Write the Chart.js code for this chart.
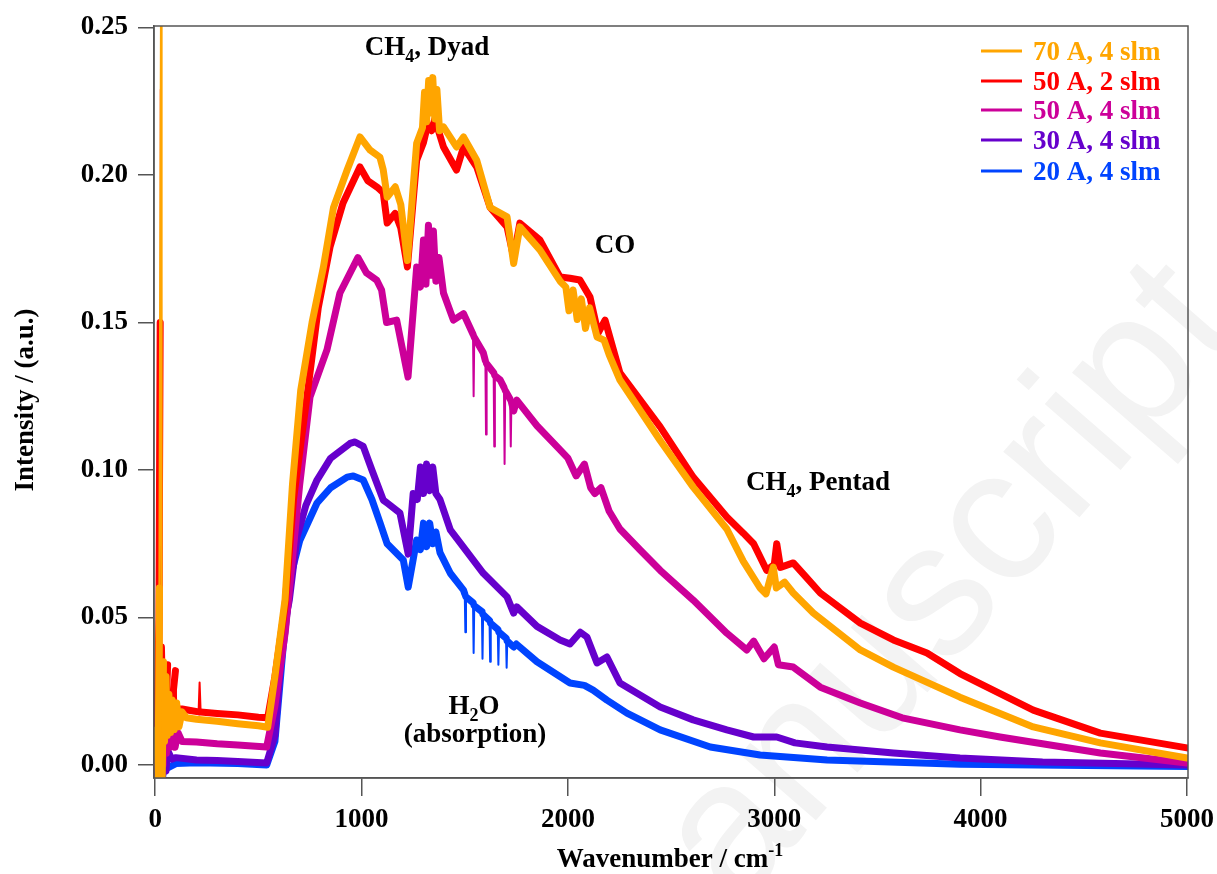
<!DOCTYPE html>
<html><head><meta charset="utf-8">
<script src="https://cdn.jsdelivr.net/npm/chart.js@4/dist/chart.umd.min.js"></script>
<style>html,body{margin:0;padding:0;background:#fff;}canvas{display:block;}</style>
</head><body>
<canvas id="c" width="1217" height="874" style="width:1217px;height:874px"></canvas>
<script>
// ---- data ----
const seriesLabels = ['70 A, 4 slm', '50 A, 2 slm', '50 A, 4 slm', '30 A, 4 slm', '20 A, 4 slm'];
const seriesColors = ['#FFA500', '#FF0000', '#CC0099', '#6600CC', '#0044FF'];
const xTickValues = [0, 1000, 2000, 3000, 4000, 5000];
const yTickValues = [0, 0.05, 0.10, 0.15, 0.20, 0.25];

const wn_70A_4slm = [0,8,14,20,24,28,31,34,40,45,52,58,66,74,82,92,104,115,130,150,200,300,400,500,545,580,629,665,705,760,815,864,930,992,1040,1089,1105,1124,1163,1190,1222,1267,1295,1305,1315,1325,1335,1345,1355,1365,1378,1397,1460,1494,1558,1623,1705,1737,1767,1864,1962,1990,2005,2025,2045,2065,2085,2105,2141,2175,2200,2252,2447,2607,2770,2850,2931,2960,2995,3010,3050,3092,3189,3417,3577,3900,4255,4580,5000];
const int_70A_4slm = [0.004,0.012,-0.004,0.06,0.17,0.26,0.02,-0.004,0.035,0.008,0.03,0.01,0.024,0.011,0.022,0.012,0.021,0.013,0.018,0.016,0.0155,0.0148,0.014,0.0133,0.0128,0.03,0.056,0.095,0.127,0.150,0.1688,0.189,0.2017,0.2129,0.2085,0.206,0.2017,0.1925,0.196,0.19,0.171,0.2108,0.216,0.228,0.218,0.232,0.221,0.233,0.219,0.229,0.215,0.2163,0.2095,0.2129,0.205,0.189,0.1858,0.170,0.1824,0.1746,0.164,0.162,0.154,0.161,0.151,0.158,0.148,0.155,0.1451,0.144,0.139,0.1305,0.110,0.0942,0.080,0.069,0.060,0.058,0.0671,0.060,0.062,0.0583,0.0515,0.039,0.0332,0.023,0.0129,0.0075,0.0024];

const wn_50A_2slm = [0,10,18,24,27,30,36,44,52,60,64,80,98,102,130,170,210,215,220,300,400,500,545,580,629,670,735,790,847,910,992,1031,1080,1105,1124,1163,1190,1222,1267,1300,1320,1340,1355,1397,1460,1494,1558,1623,1705,1737,1767,1864,1962,2010,2058,2107,2146,2180,2252,2447,2607,2770,2850,2900,2963,3000,3012,3030,3092,3150,3223,3417,3577,3740,3900,4255,4580,5000];
const int_50A_2slm = [0.008,0.02,0.05,0.15,0.229,0.04,0.02,0.025,0.018,0.034,0.019,0.02,0.032,0.019,0.019,0.0185,0.018,0.028,0.018,0.0175,0.017,0.0162,0.016,0.03,0.054,0.09,0.1247,0.155,0.1756,0.1905,0.2027,0.198,0.1956,0.194,0.1837,0.187,0.182,0.1688,0.205,0.211,0.217,0.215,0.219,0.2095,0.2017,0.2095,0.2027,0.189,0.1824,0.172,0.1837,0.178,0.1654,0.165,0.1644,0.1586,0.1464,0.1508,0.1329,0.1146,0.0976,0.0841,0.0786,0.075,0.066,0.068,0.075,0.067,0.0685,0.064,0.0583,0.0481,0.0424,0.038,0.031,0.0186,0.0108,0.0058];

const wn_50A_4slm = [0,12,20,30,38,46,54,62,72,84,96,110,130,200,300,400,540,580,630,700,750,832,895,982,1024,1073,1097,1121,1170,1225,1267,1285,1300,1312,1324,1336,1348,1360,1375,1397,1445,1494,1540,1543,1546,1590,1600,1603,1606,1640,1643,1646,1672,1690,1693,1696,1720,1723,1726,1737,1752,1850,1962,2000,2040,2080,2110,2130,2160,2200,2252,2350,2447,2607,2770,2867,2900,2950,3000,3020,3092,3223,3417,3620,3900,4094,4580,5000];
const int_50A_4slm = [0.0,0.012,-0.004,0.015,0.0,0.02,0.004,0.012,0.006,0.013,0.006,0.011,0.008,0.0078,0.0072,0.0068,0.0061,0.02,0.045,0.095,0.1247,0.1407,0.160,0.172,0.1668,0.1644,0.161,0.150,0.1508,0.1315,0.1688,0.162,0.178,0.163,0.183,0.166,0.181,0.164,0.172,0.160,0.1508,0.153,0.146,0.125,0.145,0.1397,0.137,0.112,0.136,0.133,0.108,0.132,0.1305,0.128,0.102,0.127,0.124,0.108,0.123,0.120,0.1237,0.115,0.1068,0.104,0.098,0.102,0.094,0.092,0.094,0.086,0.080,0.0729,0.066,0.0559,0.0447,0.039,0.042,0.036,0.040,0.034,0.0332,0.0264,0.021,0.016,0.0119,0.0095,0.0041,0.0007];

const wn_30A_4slm = [0,14,24,34,44,52,60,80,100,200,300,400,540,580,620,650,687,730,784,850,944,968,1008,1050,1105,1124,1186,1226,1250,1270,1285,1300,1315,1330,1345,1360,1380,1430,1478,1590,1705,1737,1752,1850,1962,2010,2060,2092,2141,2189,2252,2447,2607,2770,2900,3012,3100,3256,3577,3900,4300,5000];
const int_30A_4slm = [0.0,-0.004,0.006,-0.004,0.008,-0.002,0.005,0.002,0.0025,0.0017,0.0015,0.0012,0.0007,0.01,0.045,0.056,0.0773,0.088,0.0966,0.104,0.109,0.1095,0.108,0.100,0.0898,0.0888,0.0854,0.0715,0.092,0.090,0.101,0.092,0.102,0.093,0.101,0.092,0.090,0.0797,0.0753,0.065,0.057,0.0515,0.0536,0.047,0.0424,0.041,0.045,0.0434,0.0346,0.0366,0.0278,0.0197,0.0153,0.0119,0.0095,0.0095,0.0075,0.0061,0.0041,0.0024,0.001,0.0];

const wn_20A_4slm = [0,18,28,36,48,60,100,200,400,540,580,620,660,700,784,850,930,960,1008,1050,1090,1124,1202,1226,1267,1285,1300,1315,1330,1345,1360,1380,1430,1494,1500,1503,1506,1540,1543,1546,1583,1586,1589,1620,1623,1626,1660,1663,1666,1700,1703,1706,1737,1750,1850,2010,2080,2122,2189,2286,2447,2690,2931,3256,3900,5000];
const int_20A_4slm = [0.0,-0.004,0.003,-0.004,0.002,-0.001,0.0005,0.0008,0.0005,0.0,0.008,0.04,0.065,0.076,0.0888,0.094,0.0976,0.098,0.0966,0.090,0.082,0.075,0.0695,0.0603,0.0763,0.073,0.082,0.074,0.082,0.075,0.079,0.072,0.065,0.0593,0.058,0.045,0.057,0.055,0.038,0.054,0.052,0.036,0.051,0.049,0.035,0.048,0.046,0.034,0.045,0.043,0.033,0.042,0.040,0.041,0.035,0.0278,0.027,0.0254,0.022,0.0176,0.0119,0.0061,0.0034,0.0017,0.0003,-0.0005];

const seriesX = [wn_70A_4slm, wn_50A_2slm, wn_50A_4slm, wn_30A_4slm, wn_20A_4slm];
const seriesY = [int_70A_4slm, int_50A_2slm, int_50A_4slm, int_30A_4slm, int_20A_4slm];

// ---- chart ----
const SERIF = '"Liberation Serif", "Times New Roman", serif';
const AXIS_COLOR = '#555555';

const datasets = seriesLabels.map((lab, i) => ({
  label: lab,
  data: seriesX[i].map((x, j) => ({ x: x, y: seriesY[i][j] })),
  borderColor: seriesColors[i],
  backgroundColor: seriesColors[i],
  borderWidth: 7,
  pointRadius: 0,
  tension: 0,
  fill: false,
  borderJoinStyle: 'round',
  borderCapStyle: 'round',
  segment: {
    // narrow spikes (closely spaced points) are drawn as thin lines
    borderWidth: c => (c.p1.parsed.x - c.p0.parsed.x) < 6 ? 2 : undefined
  }
}));

function drawRich(ctx, parts, x, y, align) {
  const big = 'bold 27px ' + SERIF, small = 'bold 18px ' + SERIF;
  let w = 0;
  parts.forEach(p => { ctx.font = p.s ? small : big; p.w = ctx.measureText(p.t).width; w += p.w; });
  let cx = align === 'center' ? x - w / 2 : x;
  ctx.textAlign = 'left';
  ctx.textBaseline = 'alphabetic';
  parts.forEach(p => {
    ctx.font = p.s ? small : big;
    const dy = p.s === 'sub' ? 7 : (p.s === 'sup' ? -11 : 0);
    ctx.fillText(p.t, cx, y + dy);
    cx += p.w;
  });
}

const decorPlugin = {
  id: 'decor',
  beforeDraw(chart) {
    const ctx = chart.ctx;
    ctx.save();
    ctx.translate(738, 910);
    ctx.rotate(-49 * Math.PI / 180);
    ctx.fillStyle = '#f3f3f3';
    ctx.font = '190px "Liberation Sans", Arial, sans-serif';
    ctx.textBaseline = 'alphabetic';
    ctx.fillText('anuscript', 0, 0);
    ctx.restore();
  },
  afterDraw(chart) {
    const ctx = chart.ctx, a = chart.chartArea;
    ctx.save();
    // frame
    ctx.strokeStyle = AXIS_COLOR;
    ctx.lineWidth = 1.5;
    ctx.strokeRect(a.left, a.top, a.right - a.left, a.bottom - a.top);
    // legend
    const rows = [51, 81, 110, 140, 171];
    chart.data.datasets.forEach((ds, i) => {
      ctx.strokeStyle = ds.borderColor;
      ctx.lineWidth = 3;
      ctx.beginPath();
      ctx.moveTo(981, rows[i]);
      ctx.lineTo(1022, rows[i]);
      ctx.stroke();
      ctx.fillStyle = ds.borderColor;
      ctx.font = 'bold 27px ' + SERIF;
      ctx.textAlign = 'left';
      ctx.textBaseline = 'alphabetic';
      ctx.fillText(ds.label, 1033, rows[i] + 9);
    });
    // annotations
    ctx.fillStyle = '#000';
    drawRich(ctx, [{t:'CH'},{t:'4',s:'sub'},{t:', Dyad'}], 427, 55, 'center');
    drawRich(ctx, [{t:'CO'}], 615, 253, 'center');
    drawRich(ctx, [{t:'CH'},{t:'4',s:'sub'},{t:', Pentad'}], 818, 490, 'center');
    drawRich(ctx, [{t:'H'},{t:'2',s:'sub'},{t:'O'}], 474, 714, 'center');
    drawRich(ctx, [{t:'(absorption)'}], 475, 742, 'center');
    // axis titles
    drawRich(ctx, [{t:'Wavenumber / cm'},{t:'-1',s:'sup'}], 670, 867, 'center');
    ctx.save();
    ctx.translate(33, 400);
    ctx.rotate(-Math.PI / 2);
    drawRich(ctx, [{t:'Intensity / (a.u.)'}], 0, 0, 'center');
    ctx.restore();
    ctx.restore();
  }
};

new Chart(document.getElementById('c'), {
  type: 'line',
  data: { datasets: datasets },
  options: {
    responsive: false,
    animation: false,
    events: [],
    layout: { padding: { top: 26, right: 29, left: 0, bottom: 0 } },
    plugins: { legend: { display: false }, tooltip: { enabled: false }, title: { display: false } },
    scales: {
      x: {
        type: 'linear',
        min: -6, max: 5005,
        afterBuildTicks: s => { s.ticks = xTickValues.map(v => ({ value: v })); },
        afterFit: s => { s.height = 96; s.paddingLeft = 0; s.paddingRight = 0; },
        grid: { drawOnChartArea: false, drawTicks: true, tickLength: 18, color: AXIS_COLOR, lineWidth: 1.5 },
        border: { display: true, color: AXIS_COLOR, width: 1.5 },
        ticks: { color: '#000', font: { family: SERIF, size: 27, weight: 'bold' }, padding: 8, maxRotation: 0, autoSkip: false,
                 callback: v => String(v) }
      },
      y: {
        type: 'linear',
        min: -0.0044, max: 0.2505,
        afterBuildTicks: s => { s.ticks = yTickValues.map(v => ({ value: v })); },
        afterFit: s => { s.width = 154; s.paddingTop = 0; s.paddingBottom = 0; },
        grid: { drawOnChartArea: false, drawTicks: true, tickLength: 16, color: AXIS_COLOR, lineWidth: 1.5 },
        border: { display: true, color: AXIS_COLOR, width: 1.5 },
        ticks: { color: '#000', font: { family: SERIF, size: 27, weight: 'bold' }, padding: 10, autoSkip: false,
                 callback: v => Number(v).toFixed(2) }
      }
    }
  },
  plugins: [decorPlugin]
});
</script>
</body></html>
